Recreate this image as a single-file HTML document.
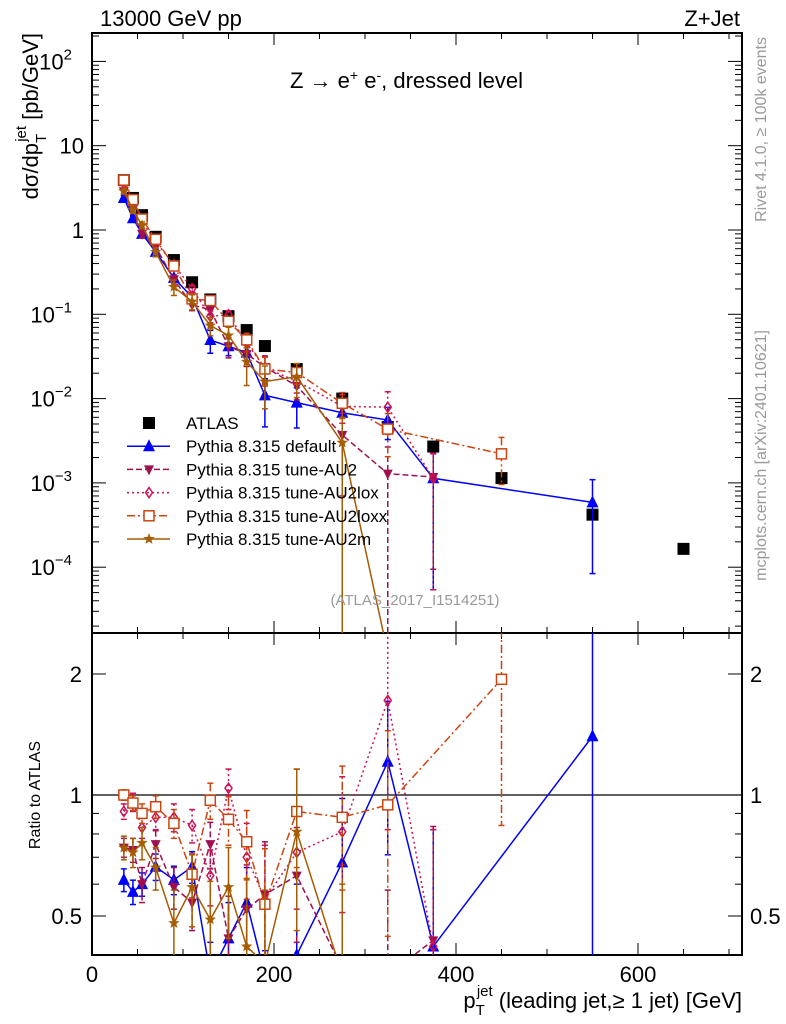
<!DOCTYPE html>
<html><head><meta charset="utf-8"><style>
html,body{margin:0;padding:0;background:#fff;width:786px;height:1024px;overflow:hidden;}
svg{display:block;font-family:"Liberation Sans",sans-serif;}
</style></head><body>
<svg id="c" width="786" height="1024" viewBox="0 0 786 1024"></svg>
<script>
const bins = [35,45,55,70,90,110,130,150,170,190,225,275,325,375,450,550,650];
const atlas = [3.9,2.4,1.5,0.83,0.44,0.24,0.15,0.095,0.065,0.042,0.0224,0.010,0.0046,0.0027,0.00114,0.00042,0.000165];
const rDefault = [0.615,0.574,0.60,0.663,0.615,0.663,0.33,0.44,0.54,0.26,0.40,0.68,1.21,0.42,null,1.40,null];
const rAU2 = [0.74,0.73,0.60,0.755,0.59,0.54,0.755,0.44,0.52,0.565,0.63,0.37,0.28,0.435,null,null,null];
const rAU2lox = [0.91,0.96,0.83,0.88,0.88,0.84,0.63,1.04,0.70,0.55,0.72,0.81,1.72,0.42,null,null,null];
const rAU2loxx = [1.0,0.955,0.90,0.935,0.85,0.635,0.97,0.87,0.765,0.535,0.91,0.88,0.945,null,1.94,null,null];
const rAU2m = [0.74,0.72,0.76,0.66,0.48,0.59,0.49,0.59,0.42,0.38,0.81,0.30,0.001,null,null,null,null];
const eDefault = [0.04,0.04,0.04,0.05,0.05,0.06,0.1,0.1,0.12,0.15,0.2,0.3,0.5,0.4,0,1.2,0];
const eAU2 = [0.04,0.05,0.06,0.06,0.07,0.08,0.1,0.12,0.15,0.2,0.2,0.3,0.3,0.4,0,0,0];
const eAU2lox = [0.04,0.05,0.05,0.06,0.07,0.08,0.1,0.12,0.15,0.2,0.2,0.3,0.9,0.4,0,0,0];
const eAU2loxx = [0.03,0.04,0.05,0.06,0.07,0.08,0.1,0.12,0.15,0.2,0.25,0.3,0.5,0,1.1,0,0];
const eAU2m = [0.05,0.06,0.07,0.08,0.1,0.12,0.12,0.15,0.2,0.2,0.35,0.3,0,0,0,0,0];
const xTicks = [0,200,400,600];
const mainTicks = [["10","2",2],["10","",1],["1","",0],["10","−1",-1],["10","−2",-2],["10","−3",-3],["10","−4",-4]];
const ratioTicks = [["2",2],["1",1],["0.5",0.5]];

const NS="http://www.w3.org/2000/svg", svg=document.getElementById('c');
function el(t,a,p){const e=document.createElementNS(NS,t);for(const k in a)e.setAttribute(k,a[k]);(p||svg).appendChild(e);return e;}
const L=92,R=742,MT=33,MB=633,RT=633,RB=955;
const X=v=>L+v*0.91;
const Y=v=>230-84.3*Math.log10(v);
const YR=v=>795-402*Math.log10(v);
const clamp=(v,a,b)=>Math.min(Math.max(v,a),b);

const defs=el('defs',{});
const c1=el('clipPath',{id:'cm'},defs);el('rect',{x:L,y:MT,width:R-L,height:MB-MT},c1);
const c2=el('clipPath',{id:'cr'},defs);el('rect',{x:L,y:RT,width:R-L,height:RB-RT},c2);

let f=el('rect',{x:L,y:MT,width:R-L,height:MB-MT,fill:'none',stroke:'#000','stroke-width':2});

f=el('rect',{x:L,y:RT,width:R-L,height:RB-RT,fill:'none',stroke:'#000','stroke-width':2});

el('line',{x1:L,x2:R,y1:YR(1),y2:YR(1),stroke:'#000','stroke-width':1.2});

for(let v=0;v<=700;v+=50){const big=v%200===0;const len=big?12:6;
 for(const [t,b] of [[MT,MB],[RT,RB]]){el('line',{x1:X(v),x2:X(v),y1:b,y2:b-len,stroke:'#000'});el('line',{x1:X(v),x2:X(v),y1:t,y2:t+len,stroke:'#000'});}}
xTicks.forEach(v=>{const t=el('text',{x:X(v),y:982,'font-size':22,'text-anchor':'middle'});t.textContent=v;
 });
for(let d=-5;d<=2;d++){for(let m=1;m<=9;m++){const v=m*Math.pow(10,d);const y=Y(v);if(y<MT||y>MB)continue;const len=m===1?14:7;
 el('line',{x1:L,x2:L+len,y1:y,y2:y,stroke:'#000'});el('line',{x1:R,x2:R-len,y1:y,y2:y,stroke:'#000'});}}
mainTicks.forEach(([b,e,d])=>{const t=el('text',{x:e?72:84,y:Y(Math.pow(10,d))+8,'font-size':22,'text-anchor':'end'});
 
 t.textContent=b;if(e){const s=el('tspan',{dy:-10,'font-size':15},t);s.textContent=e;}});
[0.4,0.5,0.6,0.7,0.8,0.9,1,2].forEach(v=>{const y=YR(v);if(y<RT||y>RB)return;const len=(v===1||v===2||v===0.5)?14:7;
 el('line',{x1:L,x2:L+len,y1:y,y2:y,stroke:'#000'});el('line',{x1:R,x2:R-len,y1:y,y2:y,stroke:'#000'});});
ratioTicks.forEach(([s,v])=>{let t=el('text',{x:82,y:YR(v)+8,'font-size':22,'text-anchor':'end'});t.textContent=s;
 
 t=el('text',{x:750,y:YR(v)+8,'font-size':22});t.textContent=s;
 });

const series=[
 {n:'default',r:rDefault,e:eDefault,c:'#0000ff',d:'',m:'tri',lab:'Pythia 8.315 default'},
 {n:'au2',r:rAU2,e:eAU2,c:'#a0104f',d:'6,3',m:'tdown',lab:'Pythia 8.315 tune-AU2'},
 {n:'au2lox',r:rAU2lox,e:eAU2lox,c:'#cc1155',d:'2,3',m:'diam',lab:'Pythia 8.315 tune-AU2lox'},
 {n:'au2loxx',r:rAU2loxx,e:eAU2loxx,c:'#cc4411',d:'8,3,2,3',m:'sq',lab:'Pythia 8.315 tune-AU2loxx'},
 {n:'au2m',r:rAU2m,e:eAU2m,c:'#a65c00',d:'',m:'star',lab:'Pythia 8.315 tune-AU2m'}];
function marker(g,type,x,y,c){
 if(type==='tri')return el('polygon',{points:`${x},${y-7} ${x-6},${y+5} ${x+6},${y+5}`,fill:c},g);
 if(type==='tdown')return el('polygon',{points:`${x},${y+6} ${x-5},${y-4} ${x+5},${y-4}`,fill:c},g);
 if(type==='diam')return el('polygon',{points:`${x},${y-5} ${x-3.5},${y} ${x},${y+5} ${x+3.5},${y}`,fill:'none',stroke:c,'stroke-width':1.5},g);
 if(type==='sq')return el('rect',{x:x-5,y:y-5,width:10,height:10,fill:'#fff',stroke:c,'stroke-width':1.5},g);
 if(type==='star'){let p=[];for(let i=0;i<10;i++){const a=-Math.PI/2+i*Math.PI/5,rr=i%2?2.5:6;p.push((x+rr*Math.cos(a))+','+(y+rr*Math.sin(a)));}
  return el('polygon',{points:p.join(' '),fill:c},g);}
 if(type==='box')return el('rect',{x:x-6,y:y-6,width:12,height:12,fill:c},g);
}
function drawSeries(s,panel){
 const g=el('g',{'clip-path':panel==='main'?'url(#cm)':'url(#cr)'});
 
 
 const top=panel==='main'?MT-20:RT-20, bot=panel==='main'?MB+20:RB+20;
 const yf=panel==='main'?(i=>clamp(Y(atlas[i]*s.r[i]),top,bot)):(i=>clamp(YR(s.r[i]),top,bot));
 const ye=panel==='main'?((i,k)=>clamp(Y(Math.max(atlas[i]*(s.r[i]+k*s.e[i]),1e-7)),top,bot)):((i,k)=>clamp(YR(Math.max(s.r[i]+k*s.e[i],1e-3)),top,bot));
 let pts=[];s.r.forEach((v,i)=>{if(v!==null)pts.push(X(bins[i])+','+yf(i));});
 el('polyline',{points:pts.join(' '),fill:'none',stroke:s.c,'stroke-width':1.5,'stroke-dasharray':s.d},g);
 s.r.forEach((v,i)=>{if(v===null)return;const x=X(bins[i]);
  if(s.e[i]>0){const y1=ye(i,1),y2=ye(i,-1);
   el('line',{x1:x,x2:x,y1:y1,y2:y2,stroke:s.c,'stroke-width':1.5,'stroke-dasharray':s.d},g);
   el('line',{x1:x-3,x2:x+3,y1:y1,y2:y1,stroke:s.c,'stroke-width':1.5},g);el('line',{x1:x-3,x2:x+3,y1:y2,y2:y2,stroke:s.c,'stroke-width':1.5},g);}
  const m=marker(g,s.m,x,yf(i),s.c);
  });
}
const ga=el('g',{'clip-path':'url(#cm)'});

atlas.forEach((v,i)=>{const m=marker(ga,'box',X(bins[i]),Y(v),'#000');});
series.forEach(s=>{drawSeries(s,'main');drawSeries(s,'ratio');});

const lg=el('g',{});
const rows=[{lab:'ATLAS',m:'box',c:'#000',d:null}].concat(series);
rows.forEach((s,i)=>{const y=423+i*23.2;
 const e=el('g',{},lg);
 if(s.d!==null)el('line',{x1:127,x2:170,y1:y,y2:y,stroke:s.c,'stroke-width':1.5,'stroke-dasharray':s.d},e);
 marker(e,s.m,149,y,s.c);
 const t=el('text',{x:186,y:y+6,'font-size':17},e);t.textContent=s.lab;});

function txt(x,y,s,a,name){const t=el('text',Object.assign({x,y,'font-size':22},a||{}));t.textContent=s;
 return t;}
txt(100,26,'13000 GeV pp',{},'energy-label');
txt(740,26,'Z+Jet',{'text-anchor':'end'},'process-label');
const tt=txt(290,88,'Z \u2192  e',{},'plot-title');
let sp=el('tspan',{dy:-8,'font-size':14},tt);sp.textContent='+';
sp=el('tspan',{dy:8},tt);sp.textContent=' e';
sp=el('tspan',{dy:-8,'font-size':14},tt);sp.textContent='-';
sp=el('tspan',{dy:8},tt);sp.textContent=', dressed level';
txt(415,605,'(ATLAS_2017_I1514251)',{'font-size':15,fill:'#999','text-anchor':'middle'},'analysis-id');
txt(0,0,'Rivet 4.1.0, \u2265 100k events',{'font-size':16,fill:'#999','text-anchor':'end',transform:'translate(766,37) rotate(-90)'},'rivet-label');
txt(0,0,'mcplots.cern.ch [arXiv:2401.10621]',{'font-size':16,fill:'#999','text-anchor':'end',transform:'translate(766,330) rotate(-90)'},'mcplots-label');
const yt=txt(0,0,'d\u03c3/dp',{'text-anchor':'end',transform:'translate(38,33) rotate(-90)'},'y-axis-title');
sp=el('tspan',{dy:8,'font-size':15},yt);sp.textContent='T';
sp=el('tspan',{dy:-20,dx:-8,'font-size':15},yt);sp.textContent='jet';
sp=el('tspan',{dy:12},yt);sp.textContent=' [pb/GeV]';
txt(0,0,'Ratio to ATLAS',{'font-size':16,'text-anchor':'middle',transform:'translate(40,795) rotate(-90)'},'ratio-axis-title');
const xt=txt(742,1008,'',{'text-anchor':'end'},'x-axis-title');
sp=el('tspan',{},xt);sp.textContent='p';
sp=el('tspan',{dy:7,'font-size':15},xt);sp.textContent='T';
sp=el('tspan',{dy:-19,dx:-8,'font-size':15},xt);sp.textContent='jet';
sp=el('tspan',{dy:12},xt);sp.textContent=' (leading jet,\u2265 1 jet) [GeV]';
</script>
</body></html>
